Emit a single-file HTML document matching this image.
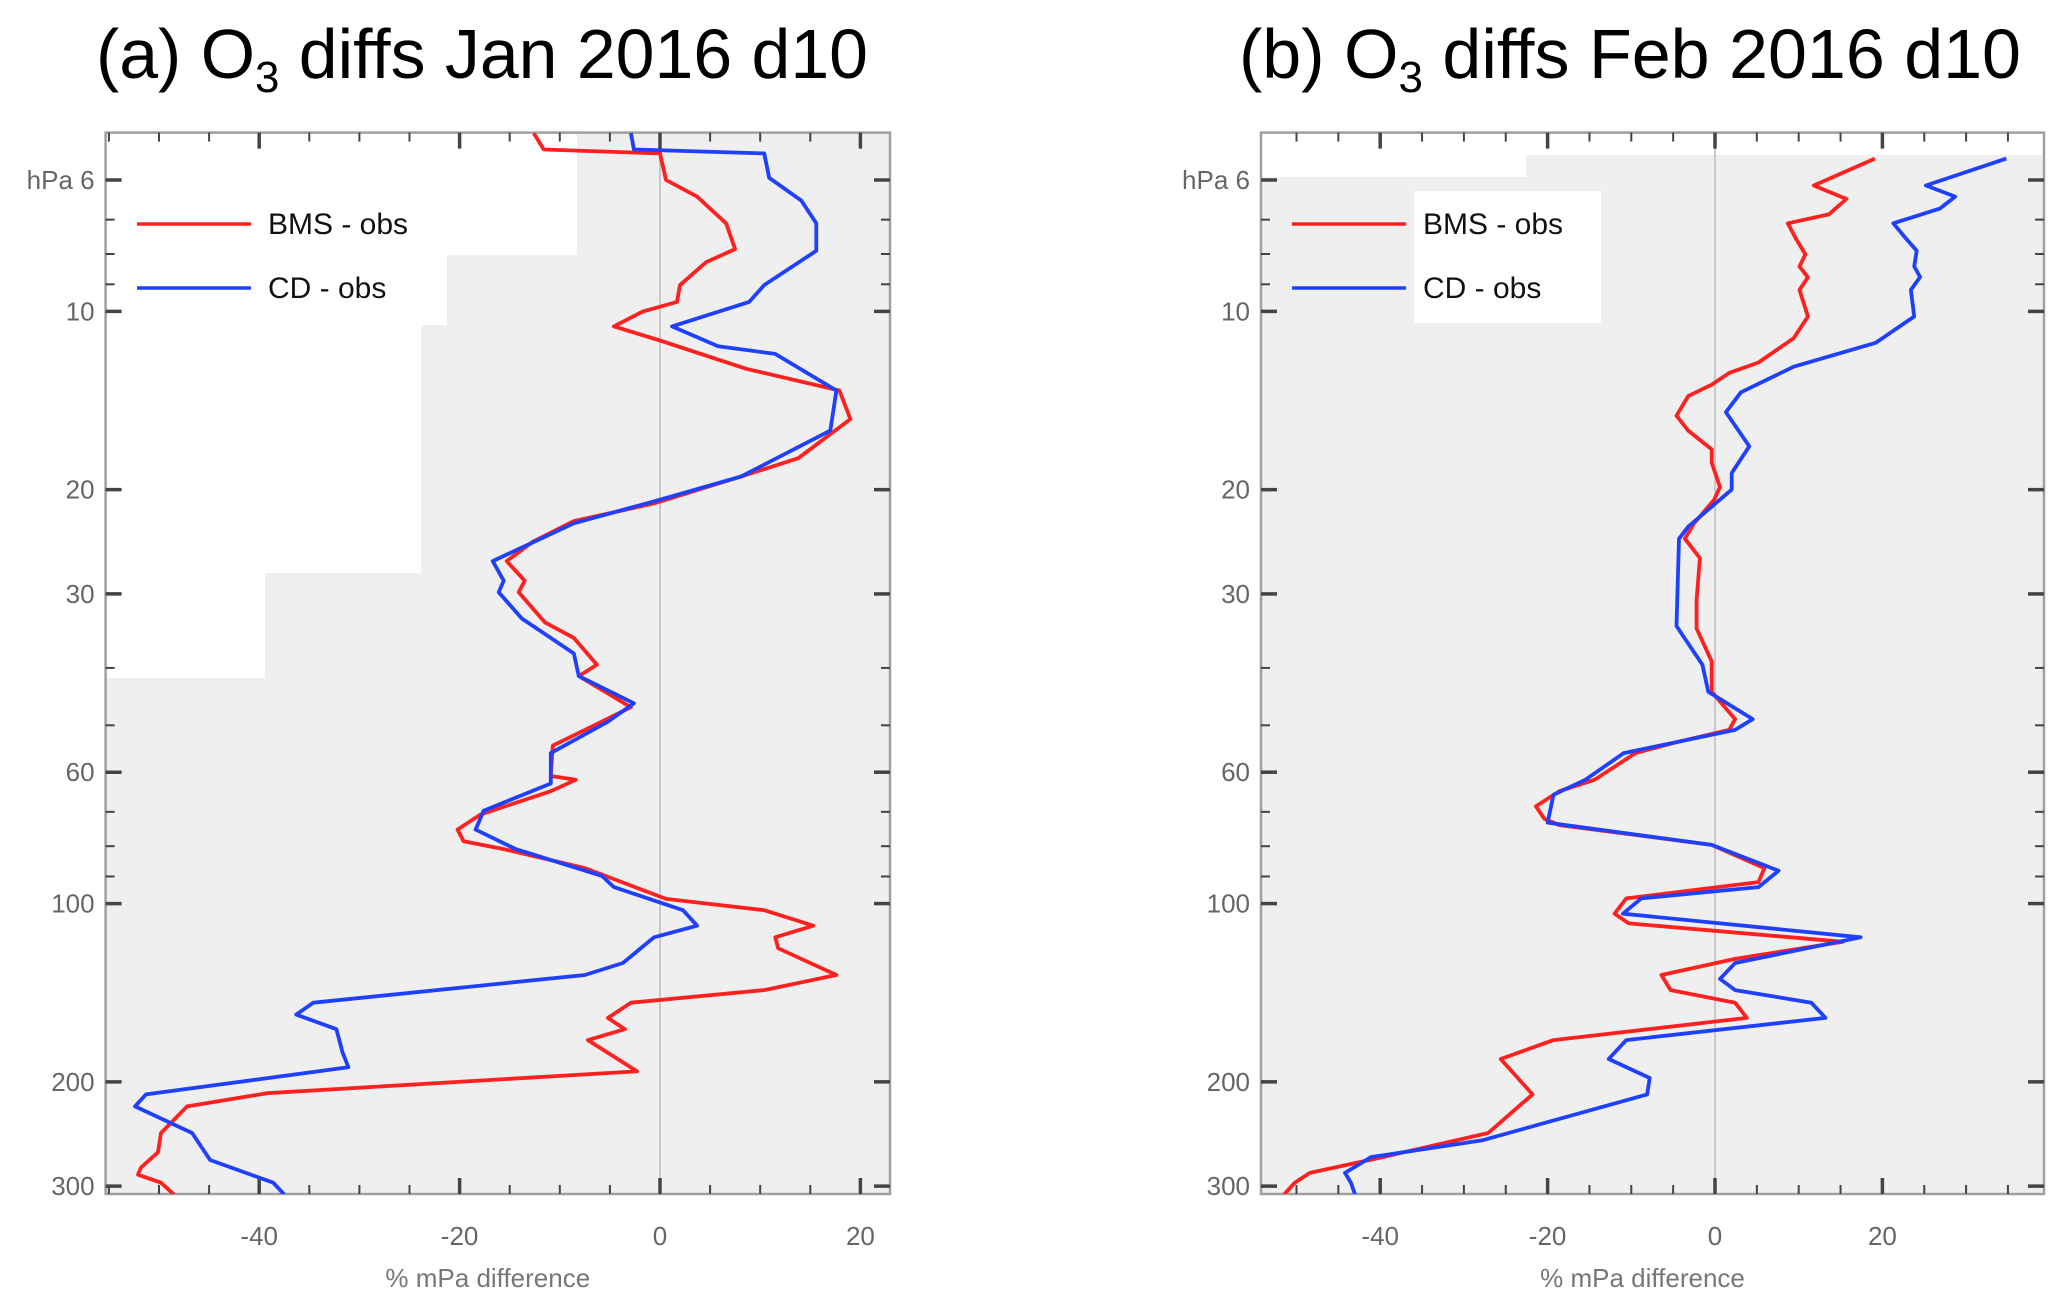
<!DOCTYPE html>
<html><head><meta charset="utf-8"><style>
html,body{margin:0;padding:0;background:#fff;}
svg{display:block;font-family:"Liberation Sans",sans-serif;}
</style></head><body>
<svg id="chart" width="2067" height="1310" viewBox="0 0 2067 1310" xmlns="http://www.w3.org/2000/svg"></svg>
<script>
// ---- data ----
const yTicks = [6, 10, 20, 30, 60, 100, 200, 300];
const yMinor = [7, 8, 9, 40, 50, 70, 80, 90];
const xTicksA = [-40, -20, 0, 20];
const xTicksB = [-40, -20, 0, 20];
// Panel (a) Jan 2016
const aRedP = [5.0,5.33,5.41,6,6.4,7.1,7.85,8.26,9.03,9.64,10.0,10.6,11.2,12.5,13.6,15.2,17.7,19.0,21.1,22.6,24.5,26.4,28.5,29.8,33.5,35.6,39.5,41.3,46.6,50.9,54.1,60.9,61.8,64.6,70.7,75,78.5,80.9,87.1,98.2,102.6,109,114,119,132,140,147,156,163,170,192,209,220,244,263,279,287,296,310];
const aRedV = [-12.6,-11.6,0,0.6,3.7,6.6,7.5,4.6,2.0,1.7,-1.7,-4.6,0,8.6,17.9,19.0,13.8,8.1,-0.6,-8.6,-12.7,-15.3,-13.5,-14.1,-11.5,-8.6,-6.3,-8.1,-2.9,-7.5,-10.7,-10.9,-8.4,-10.9,-17.9,-20.2,-19.6,-15.6,-7.5,0.6,10.4,15.3,11.5,11.8,17.6,10.4,-2.9,-5.2,-3.5,-7.2,-2.3,-39.2,-47.2,-49.8,-50.1,-51.8,-52.1,-49.8,-48.5];
const aBlueP = [5.0,5.33,5.41,5.95,6.5,7.1,7.9,9.03,9.64,10.6,11.45,11.8,13.6,15.9,19.0,20.8,22.8,26.4,28.5,29.8,33.0,37.8,41.3,45.9,49.3,55.7,62.7,69.7,75,80.9,89.8,93.8,102.6,109,114,126,132,147,154,163,178,189,210,220,244,271,296,310];
const aBlueV = [-2.9,-2.6,10.4,10.9,14.1,15.6,15.6,10.4,8.9,1.2,5.8,11.5,17.6,17.0,8.1,0,-8.6,-16.7,-15.6,-16.1,-13.8,-8.6,-8.1,-2.6,-5.2,-10.9,-10.9,-17.6,-18.4,-14.4,-5.8,-4.6,2.3,3.7,-0.6,-3.7,-7.5,-34.6,-36.3,-32.3,-31.7,-31.1,-51.3,-52.4,-46.7,-44.9,-38.6,-37.5];
// Panel (b) Feb 2016
const bRedP = [5.52,6.13,6.46,6.86,7.1,7.55,8.01,8.4,8.76,9.2,10.2,11.1,12.2,12.7,13.3,13.9,15.0,15.9,17.1,18.0,19.8,20.8,22.8,24.2,26.1,30.7,34.3,39.0,43.9,48.8,50.9,53.4,55.7,61.8,64.6,68.5,71.9,73.7,79.6,87.1,92,98,104,108,116,124,132,140,147,156,170,183,210,244,268,285,296,310];
const bRedV = [19.1,11.8,15.7,13.6,8.7,9.7,10.8,10.1,11.1,10.1,11.1,9.4,5.2,1.7,-0.4,-3.2,-4.6,-3.2,-0.4,-0.4,0.6,-0.1,-2.5,-3.6,-1.8,-2.2,-2.2,-0.4,-0.4,2.4,1.7,-4.6,-9.5,-14.4,-18.6,-21.4,-20.4,-18.6,-0.4,5.9,5.2,-10.6,-12.0,-10.3,15.3,2.4,-6.4,-5.3,2.4,3.8,-19.3,-25.6,-21.8,-27.1,-39.7,-48.4,-50.2,-51.5];
const bBlueP = [5.52,6.13,6.4,6.7,7.1,7.5,7.9,8.4,8.75,9.2,10.2,11.3,12.4,13.7,14.8,16.9,18.75,20.0,23.1,24.2,34.0,39.5,43.9,48.8,50.9,55.7,61.8,65.5,73,79.6,88,93.8,98,104,114,126,134,140,147,156,170,183,197,210,251,268,285,296,310];
const bBlueV = [34.8,25.2,28.7,26.9,21.3,22.7,24.1,23.8,24.5,23.4,23.8,19.2,9.4,3.1,1.3,4.1,2.0,2.0,-3.2,-4.3,-4.6,-1.5,-0.8,4.5,2.4,-10.9,-15.5,-19.3,-20.0,-0.4,7.6,5.2,-8.8,-11.0,17.4,2.4,0.6,2.4,11.5,13.2,-10.6,-12.7,-7.8,-8.1,-27.8,-41.1,-44.2,-43.5,-43.0];

const NS = "http://www.w3.org/2000/svg";
const svg = document.getElementById('chart');
function mk(tag, attrs, parent){const e=document.createElementNS(NS,tag);for(const k in attrs)e.setAttribute(k,attrs[k]);(parent||svg).appendChild(e);return e;}

function panel(cfg){
  const g = mk('g',{});
  
  
  const L=cfg.left,R=cfg.right,T=132.6,B=1194;
  const x = v => cfg.x0 + v*cfg.k;
  const y6=180, ppd=592.2;
  const y = p => y6 + Math.log10(p/6)*ppd;
  const bg = mk('rect',{x:L,y:T,width:R-L,height:B-T,fill:'#efefef'},g);
  
  
  cfg.white.forEach(w=>{const r=mk('rect',{x:w[0],y:w[1],width:w[2]-w[0],height:w[3]-w[1],fill:'#fff'},g);
    
    });
  const zl = mk('line',{x1:x(0),x2:x(0),y1:T,y2:B,stroke:'#c8c8c8','stroke-width':2},g);
  
  
  const fr = mk('rect',{x:L,y:T,width:R-L,height:B-T,fill:'none',stroke:'#a0a0a0','stroke-width':2.5},g);
  
  
  const vmin=(L-cfg.x0)/cfg.k, vmax=(R-cfg.x0)/cfg.k;
  for(let v=Math.ceil(vmin/5)*5; v<=vmax; v+=5){
    const maj = v%20===0, len = maj?16:9, w=maj?3.5:2;
    mk('line',{x1:x(v),x2:x(v),y1:B,y2:B-len,stroke:'#444','stroke-width':w},g);
    mk('line',{x1:x(v),x2:x(v),y1:T,y2:T+len,stroke:'#444','stroke-width':w},g);
  }
  cfg.xt.forEach(v=>{const t=mk('text',{x:x(v),y:1245,'font-size':26,fill:'#666','text-anchor':'middle'},g);t.textContent=String(v);
    
    });
  yTicks.forEach(p=>{
    mk('line',{x1:L,x2:L+16,y1:y(p),y2:y(p),stroke:'#444','stroke-width':3.5},g);
    mk('line',{x1:R,x2:R-16,y1:y(p),y2:y(p),stroke:'#444','stroke-width':3.5},g);
    const t=mk('text',{x:L-11,y:y(p)+9,'font-size':26,fill:'#666','text-anchor':'end'},g);
    t.textContent = p===6 ? 'hPa 6' : String(p);
    
    
  });
  yMinor.forEach(p=>{
    mk('line',{x1:L,x2:L+9,y1:y(p),y2:y(p),stroke:'#444','stroke-width':2},g);
    mk('line',{x1:R,x2:R-9,y1:y(p),y2:y(p),stroke:'#444','stroke-width':2},g);
  });
  const xt=mk('text',{x:(L+R)/2-10,y:1287,'font-size':26,fill:'#777','text-anchor':'middle'},g);
  xt.textContent='% mPa difference';
  
  
  const cp=mk('clipPath',{id:'clip'+cfg.id},g);
  mk('rect',{x:L,y:T,width:R-L,height:B-T},cp);
  [[cfg.redP,cfg.redV,'#ff2020','bms-obs-line'],[cfg.blueP,cfg.blueV,'#2040ff','cd-obs-line']].forEach(s=>{
    const pts=s[0].map((p,i)=>x(s[1][i]).toFixed(1)+','+y(p).toFixed(1)).join(' ');
    const l=mk('polyline',{points:pts,fill:'none',stroke:s[2],'stroke-width':3.8,'stroke-linejoin':'round'},g);
    l.setAttribute('clip-path','url(#clip'+cfg.id+')');
    
    
  });
  if(cfg.legBox){const r=mk('rect',{x:cfg.legBox[0],y:cfg.legBox[1],width:cfg.legBox[2],height:cfg.legBox[3],fill:'#fff'},g);
    
    }
  [['BMS - obs','#ff2020',224],['CD - obs','#2040ff',288]].forEach(e=>{
    const lg=mk('g',{},g);
    
    
    mk('line',{x1:cfg.legX,x2:cfg.legX+114,y1:e[2],y2:e[2],stroke:e[1],'stroke-width':3.5},lg);
    const t=mk('text',{x:cfg.legX+131,y:e[2]+10,'font-size':30,fill:'#111'},lg);t.textContent=e[0];
  });
  const tt=mk('text',{x:cfg.titleX,y:78,'font-size':70,fill:'#000','textLength':cfg.titleW,'lengthAdjust':'spacingAndGlyphs'},g);
  
  
  const a=document.createElementNS(NS,'tspan');a.textContent=cfg.t1;tt.appendChild(a);
  const sub=document.createElementNS(NS,'tspan');sub.setAttribute('dy','14');sub.setAttribute('font-size','44');sub.textContent='3';tt.appendChild(sub);
  const b=document.createElementNS(NS,'tspan');b.setAttribute('dy','-14');b.textContent=' '+cfg.t2;tt.appendChild(b);
}

panel({id:'a',name:'panel-a-jan',left:105.6,right:890,x0:660,k:10.02,xt:xTicksA,
  redP:aRedP,redV:aRedV,blueP:aBlueP,blueV:aBlueV,
  white:[[106,133,577,255],[106,133,447,325],[106,133,421,573],[106,133,265,678]],
  legX:137,legBox:null,titleX:96,titleW:772,t1:'(a) O',t2:'diffs Jan 2016 d10'});
panel({id:'b',name:'panel-b-feb',left:1261,right:2044,x0:1715,k:8.37,xt:xTicksB,
  redP:bRedP,redV:bRedV,blueP:bBlueP,blueV:bBlueV,
  white:[[1262,133,1526,177],[1262,133,2043,155]],
  legX:1292,legBox:[1414,191,187,132],titleX:1239,titleW:782,t1:'(b) O',t2:'diffs Feb 2016 d10'});
</script>
</body></html>
